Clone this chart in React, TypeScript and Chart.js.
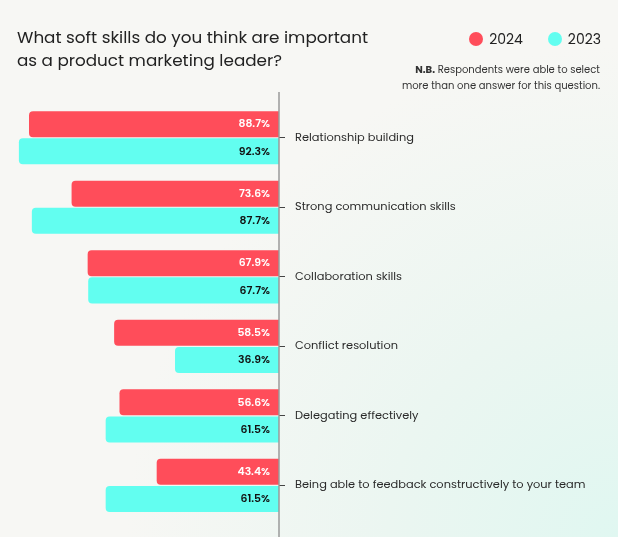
import React, { useEffect, useRef } from "react";
import { Chart, registerables } from "chart.js";
Chart.register(...registerables);

const categories = [
  "Relationship building",
  "Strong communication skills",
  "Collaboration skills",
  "Conflict resolution",
  "Delegating effectively",
  "Being able to feedback constructively to your team",
];
const values2024 = [88.7, 73.6, 67.9, 58.5, 56.6, 43.4];
const values2023 = [92.3, 87.7, 67.7, 36.9, 61.5, 61.5];
const seriesLabels = ["2024", "2023"];

const RED = "#FF4D5A";
const CYAN = "#62FEF0";
const FONT = "Poppins, 'Open Sans', sans-serif";

const valueLabels = {
  id: "valueLabels",
  afterDatasetsDraw(chart: any) {
    const ctx = chart.ctx;
    chart.data.datasets.forEach((ds: any, di: number) => {
      const meta = chart.getDatasetMeta(di);
      meta.data.forEach((bar: any, i: number) => {
        const { y, base } = bar.getProps(["y", "base"], true);
        ctx.save();
        ctx.font = `600 10.8px ${FONT}`;
        ctx.fillStyle = di === 0 ? "#ffffff" : "#111111";
        ctx.textAlign = "right";
        ctx.textBaseline = "middle";
        ctx.fillText(ds.data[i].toFixed(1) + "%", base - 9, y + 0.5);
        ctx.restore();
      });
    });
  },
};

const axisLine = {
  id: "axisLine",
  afterDatasetsDraw(chart: any) {
    const ctx = chart.ctx;
    const x = chart.chartArea.right;
    ctx.save();
    ctx.strokeStyle = "#9a9a9a";
    ctx.lineWidth = 1.5;
    ctx.beginPath();
    ctx.moveTo(x, 92);
    ctx.lineTo(x, chart.height);
    ctx.stroke();
    ctx.restore();
  },
};

export default function App() {
  const ref = useRef<HTMLCanvasElement>(null);
  useEffect(() => {
    if (!ref.current) return;
    const chart = new Chart(ref.current, {
      type: "bar",
      data: {
        labels: categories,
        datasets: [
          {
            label: seriesLabels[0],
            data: values2024,
            backgroundColor: RED,
            borderRadius: 4,
            categoryPercentage: 0.78,
            barPercentage: 0.96,
          },
          {
            label: seriesLabels[1],
            data: values2023,
            backgroundColor: CYAN,
            borderRadius: 4,
            categoryPercentage: 0.78,
            barPercentage: 0.96,
          },
        ],
      },
      options: {
        indexAxis: "y",
        animation: false,
        responsive: false,
        maintainAspectRatio: false,
        layout: { padding: { top: 103, bottom: 12, left: 0, right: 0 } },
        plugins: { legend: { display: false }, tooltip: { enabled: false } },
        scales: {
          x: { display: false, reverse: true, min: 0, max: 99 },
          y: {
            position: "right",
            border: { display: false },
            grid: {
              offset: false,
              drawOnChartArea: false,
              drawTicks: true,
              tickLength: 6,
              color: "#444",
              lineWidth: 1,
            },
            ticks: {
              padding: 10,
              color: "#2a2a2a",
              font: { family: FONT, size: 11.4 },
              crossAlign: "near",
            },
            afterFit(scale: any) {
              scale.width = 339;
            },
          },
        },
      },
      plugins: [valueLabels, axisLine],
    } as any);
    return () => chart.destroy();
  }, []);

  return (
    <div
      style={{
        position: "fixed",
        left: 0,
        top: 0,
        width: 618,
        height: 537,
        overflow: "hidden",
        fontFamily: FONT,
        background:
          "radial-gradient(circle at 100% 100%, #e0f7f1 0%, #ebf6f1 28%, #f7f7f4 60%)",
      }}
    >
      <canvas
        ref={ref}
        width={618}
        height={537}
        style={{ position: "absolute", left: 0, top: 0, width: 618, height: 537 }}
      />
      <div
        style={{
          position: "absolute",
          left: 17,
          top: 26,
          fontSize: 16.8,
          lineHeight: "23px",
          color: "#222",
        }}
      >
        What soft skills do you think are important
        <br />
        as a product marketing leader?
      </div>
      <div
        style={{
          position: "absolute",
          right: 17,
          top: 29,
          display: "flex",
          alignItems: "center",
          fontSize: 14,
          color: "#222",
          lineHeight: "20px",
        }}
      >
        <span style={{ width: 14, height: 14, borderRadius: "50%", background: RED, display: "inline-block", marginRight: 6 }} />
        <span style={{ marginRight: 25 }}>{seriesLabels[0]}</span>
        <span style={{ width: 14, height: 14, borderRadius: "50%", background: CYAN, display: "inline-block", marginRight: 6 }} />
        <span>{seriesLabels[1]}</span>
      </div>
      <div
        style={{
          position: "absolute",
          right: 18,
          top: 62,
          textAlign: "right",
          fontSize: 10,
          lineHeight: "16px",
          color: "#333",
        }}
      >
        <b>N.B.</b> Respondents were able to select
        <br />
        more than one answer for this question.
      </div>
    </div>
  );
}
